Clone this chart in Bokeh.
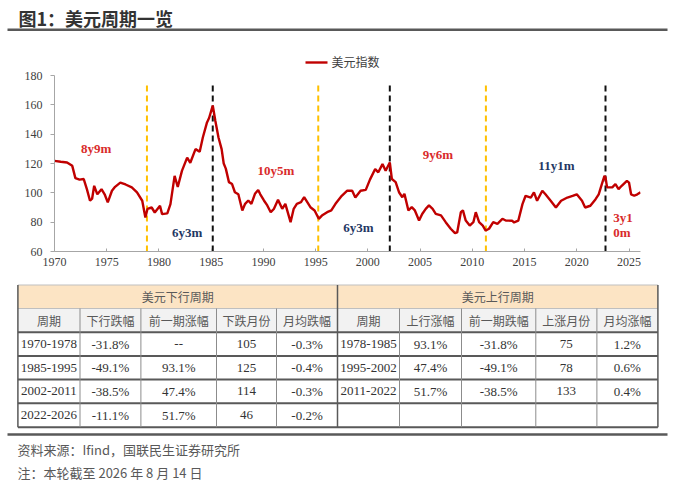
from bokeh.plotting import figure
from bokeh.models import Range1d, FixedTicker
from bokeh.core.properties import value
from bokeh.embed import file_html
from bokeh.resources import INLINE

# ---------------- data ----------------
years = [1970.0, 1970.6, 1971.2, 1971.7, 1972.0, 1972.4, 1972.8, 1973.1, 1973.4, 1973.6,
         1973.8, 1974.1, 1974.5, 1974.8, 1975.1, 1975.5, 1975.8, 1976.3, 1976.8, 1977.4,
         1977.9, 1978.4, 1978.7, 1978.9, 1979.3, 1979.6, 1980.1, 1980.3, 1980.8, 1981.1,
         1981.5, 1981.8, 1982.2, 1982.7, 1983.0, 1983.5, 1983.9, 1984.2, 1984.6, 1984.8,
         1985.15, 1985.4, 1985.7, 1986.0, 1986.2, 1986.4, 1986.7, 1987.0, 1987.27, 1987.6,
         1987.98, 1988.25, 1988.55, 1988.85, 1989.19, 1989.5, 1989.7, 1990.05, 1990.37, 1990.7,
         1991.0, 1991.4, 1991.8, 1992.1, 1992.6, 1992.9, 1993.2, 1993.6, 1993.9, 1994.2,
         1994.5, 1994.9, 1995.3, 1995.6, 1996.1, 1996.5, 1996.9, 1997.5, 1998.0, 1998.5,
         1998.8, 1999.3, 1999.8, 2000.2, 2000.7, 2001.0, 2001.4, 2001.7, 2002.1, 2002.3,
         2002.66, 2002.98, 2003.3, 2003.5, 2003.88, 2004.2, 2004.5, 2004.9, 2005.2, 2005.54,
         2005.85, 2006.2, 2006.5, 2007.0, 2007.45, 2007.93, 2008.34, 2008.55, 2008.9, 2009.1,
         2009.37, 2009.75, 2010.1, 2010.33, 2010.65, 2011.0, 2011.28, 2011.6, 2012.0, 2012.4,
         2012.88, 2013.2, 2013.8, 2014.0, 2014.4, 2014.8, 2015.1, 2015.6, 2015.9, 2016.2,
         2016.7, 2017.0, 2017.5, 2018.0, 2018.5, 2019.1, 2019.6, 2020.0, 2020.5, 2020.8,
         2021.3, 2021.8, 2022.1, 2022.4, 2022.65, 2022.75, 2022.9, 2023.4, 2023.7, 2024.0,
         2024.3, 2024.8, 2025.0, 2025.2, 2025.5, 2025.8, 2026.1]
dxy = [121.8, 121.2, 120.7, 118.4, 110.0, 109.0, 109.4, 102.5, 94.6, 96.0,
       104.8, 99.0, 102.5, 99.0, 93.5, 101.4, 104.1, 107.0, 105.7, 103.7,
       100.3, 94.6, 83.2, 89.0, 90.0, 86.6, 91.2, 85.5, 86.0, 92.3,
       111.6, 104.0, 115.0, 124.0, 120.5, 129.8, 128.0, 137.7, 148.0, 151.0,
       159.5, 149.0, 137.7, 129.8, 120.0, 116.5, 107.3, 106.0, 100.4, 99.0,
       88.0, 92.5, 94.8, 92.5, 99.3, 102.0, 99.0, 94.8, 91.4, 86.8,
       89.0, 95.2, 89.1, 92.5, 80.0, 89.1, 92.5, 93.6, 97.0, 93.6,
       90.2, 88.0, 82.3, 84.5, 86.8, 88.0, 92.5, 98.0, 101.4, 101.4,
       96.8, 101.4, 102.0, 109.0, 116.2, 114.0, 119.6, 115.0, 120.7, 109.4,
       107.3, 100.4, 97.0, 99.3, 88.0, 90.2, 88.0, 81.1, 85.6, 89.1,
       91.4, 89.1, 85.7, 84.6, 80.0, 75.5, 72.5, 73.0, 86.8, 88.0,
       81.1, 77.7, 80.0, 86.8, 80.0, 77.7, 74.3, 75.5, 80.0, 78.9,
       82.3, 81.1, 81.0, 79.8, 81.0, 92.3, 98.0, 96.8, 100.3, 94.6,
       101.4, 99.0, 94.6, 90.0, 94.6, 96.8, 97.9, 99.0, 94.6, 90.0,
       91.2, 95.7, 99.0, 106.0, 111.6, 110.5, 103.7, 103.7, 106.0, 102.5,
       104.8, 108.2, 107.0, 99.0, 98.0, 99.0, 100.3]

trough_dates = [1978.85, 1995.25, 2011.3]
peak_dates = [1985.15, 2002.1, 2022.75]
line_low = 60
line_high = 175

x_ticks = [1970, 1975, 1980, 1985, 1990, 1995, 2000, 2005, 2010, 2015, 2020, 2025]
y_ticks = [60, 80, 100, 120, 140, 160, 180]

down_labels = ["8y9m", "10y5m", "9y6m"]
down_label_x = [1974.0, 1991.2, 2006.7]
down_label_y = [130, 115, 126]
up_labels = ["6y3m", "6y3m", "11y1m"]
up_label_x = [1982.7, 1999.1, 2018.05]
up_label_y = [72.7, 76.7, 118.4]
last_labels = ["3y1", "0m"]
last_label_x = [2023.5, 2023.5]
last_label_y = [83.2, 73.0]

title_text = "图1：美元周期一览"
legend_label = "美元指数"
group_headers = ["美元下行周期", "美元上行周期"]
col_headers = ["周期", "下行跌幅", "前一期涨幅", "下跌月份", "月均跌幅",
               "周期", "上行涨幅", "前一期跌幅", "上涨月份", "月均涨幅"]
down_period = ["1970-1978", "1985-1995", "2002-2011", "2022-2026"]
down_change = ["-31.8%", "-49.1%", "-38.5%", "-11.1%"]
down_prev = ["--", "93.1%", "47.4%", "51.7%"]
down_months = ["105", "125", "114", "46"]
down_monthly = ["-0.3%", "-0.4%", "-0.3%", "-0.2%"]
up_period = ["1978-1985", "1995-2002", "2011-2022", ""]
up_change = ["93.1%", "47.4%", "51.7%", ""]
up_prev = ["-31.8%", "-49.1%", "-38.5%", ""]
up_months = ["75", "78", "133", ""]
up_monthly = ["1.2%", "0.6%", "0.4%", ""]
source_text = "资料来源：Ifind，国联民生证券研究所"
note_text = "注：本轮截至 2026 年 8 月 14 日"

# ---------------- styles ----------------
SERIF_NAME = "'Liberation Serif', 'Noto Sans CJK SC'"
SERIF = value(SERIF_NAME)
CJK = value("'Noto Sans CJK SC'")
RED = "#C00000"
LABEL_RED = "#D92B2B"
NAVY = "#1F3864"
GOLD = "#FFC000"
TEXT = "#404040"

# page geometry (pixels)
W, H = 680, 486
F_LEFT, F_RIGHT, F_TOP, F_BOTTOM = 54, 640, 75, 251

p = figure(width=W, height=H, x_range=Range1d(1970, 2026.1), y_range=Range1d(60, 180),
           output_backend="svg", toolbar_location=None,
           min_border_left=F_LEFT, min_border_right=W - F_RIGHT,
           min_border_top=F_TOP, min_border_bottom=H - F_BOTTOM)
p.xgrid.visible = False
p.ygrid.visible = False
p.outline_line_color = None
p.background_fill_color = "white"
p.border_fill_color = "white"
# page-pixel coordinate system for title, legend, table and notes
p.extra_x_ranges = {"px": Range1d(F_LEFT, F_RIGHT)}
p.extra_y_ranges = {"py": Range1d(F_BOTTOM, F_TOP)}
PX = dict(x_range_name="px", y_range_name="py", level="overlay")

# ---------------- chart ----------------
p.segment(x0=trough_dates, x1=trough_dates, y0=[line_low] * 3, y1=[line_high] * 3,
          line_color=GOLD, line_width=2, line_dash="6 4")
p.segment(x0=peak_dates, x1=peak_dates, y0=[line_low] * 3, y1=[line_high] * 3,
          line_color="#111111", line_width=2, line_dash="6 4")

p.line(years, dxy, line_color=RED, line_width=2.4)

p.text(x=down_label_x, y=down_label_y, text=down_labels, text_font=SERIF, text_font_style="bold",
       text_font_size="13px", text_color=LABEL_RED, text_align="center", text_baseline="middle")
p.text(x=up_label_x, y=up_label_y, text=up_labels, text_font=SERIF, text_font_style="bold",
       text_font_size="13px", text_color=NAVY, text_align="center", text_baseline="middle")
p.text(x=last_label_x, y=last_label_y, text=last_labels, text_font=SERIF, text_font_style="bold",
       text_font_size="13px", text_color=LABEL_RED, text_align="left", text_baseline="middle")

for ax in (p.xaxis[0], p.yaxis[0]):
    ax.axis_line_color = "#A6A6A6"
    ax.major_tick_line_color = "#A6A6A6"
    ax.minor_tick_line_color = None
    ax.major_label_text_font = SERIF_NAME
    ax.major_label_text_font_size = "12px"
    ax.major_label_text_color = TEXT
p.xaxis.ticker = FixedTicker(ticks=x_ticks)
p.yaxis.ticker = FixedTicker(ticks=y_ticks)
p.xaxis.major_tick_in = 3
p.xaxis.major_tick_out = 0
p.xaxis.major_label_standoff = 6
p.yaxis.major_tick_in = 0
p.yaxis.major_tick_out = 4
p.yaxis.major_label_standoff = 8

# ---------------- legend (above the plot area) ----------------
p.segment(x0=[305], x1=[327], y0=[62], y1=[62], line_color=RED, line_width=2.4, **PX)
p.text(x=[331], y=[62], text=[legend_label], text_font=SERIF, text_font_size="12px",
       text_color=TEXT, text_align="left", text_baseline="middle", **PX)

# ---------------- title ----------------
p.text(x=[18], y=[17.5], text=[title_text], text_font=CJK, text_font_style="bold",
       text_font_size="18px", text_color="#333333", text_align="left", text_baseline="middle", **PX)
p.segment(x0=[7], y0=[29.3], x1=[667], y1=[29.3], line_color="#595959", line_width=2.5, **PX)

# ---------------- table ----------------
col_edges = [17.4, 79.5, 140.4, 216.0, 276.0, 337.0, 399.0, 461.0, 535.3, 596.4, 657.4]
row_edges = [284.5, 308.0, 331.7, 355.5, 379.0, 402.7, 426.7]

p.quad(left=[col_edges[0]], right=[col_edges[-1]], top=[row_edges[0]], bottom=[row_edges[1]],
       fill_color="#FCE4C4", line_color=None, **PX)
p.quad(left=[col_edges[0]], right=[col_edges[-1]], top=[row_edges[1]], bottom=[row_edges[2]],
       fill_color="#F2F2F2", line_color=None, **PX)

p.segment(x0=[col_edges[0]] * 2, x1=[col_edges[-1]] * 2, y0=row_edges[:2], y1=row_edges[:2],
          line_color="#BFBFBF", line_width=1, **PX)
p.segment(x0=[col_edges[0]] * 5, x1=[col_edges[-1]] * 5, y0=row_edges[2:], y1=row_edges[2:],
          line_color="#595959", line_width=2, **PX)
inner = [c for i, c in enumerate(col_edges) if i not in (0, 5, 10)]
p.segment(x0=inner, x1=inner, y0=[row_edges[1]] * len(inner), y1=[row_edges[-1]] * len(inner),
          line_color="#8C8C8C", line_width=1, **PX)
outer = [col_edges[0], col_edges[5], col_edges[10]]
p.segment(x0=outer, x1=outer, y0=[row_edges[0]] * 3, y1=[row_edges[-1]] * 3,
          line_color="#595959", line_width=1.5, **PX)

centers_x = [(col_edges[i] + col_edges[i + 1]) / 2 for i in range(10)]
row_mid = [(row_edges[i] + row_edges[i + 1]) / 2 for i in range(6)]

p.text(x=[(col_edges[0] + col_edges[5]) / 2, (col_edges[5] + col_edges[10]) / 2],
       y=[row_mid[0]] * 2, text=group_headers, text_font=CJK, text_font_size="12px",
       text_color="#595959", text_align="center", text_baseline="middle", **PX)
p.text(x=centers_x, y=[row_mid[1]] * 10, text=col_headers, text_font=CJK, text_font_size="12px",
       text_color="#595959", text_align="center", text_baseline="middle", **PX)

table_cols = [down_period, down_change, down_prev, down_months, down_monthly,
              up_period, up_change, up_prev, up_months, up_monthly]
cx, cy, ct = [], [], []
for ci, col in enumerate(table_cols):
    for ri, v in enumerate(col):
        if v:
            cx.append(centers_x[ci])
            cy.append(row_mid[2 + ri])
            ct.append(v)
p.text(x=cx, y=cy, text=ct, text_font=SERIF, text_font_size="13px", text_color="#333333",
       text_align="center", text_baseline="middle", **PX)

# ---------------- notes ----------------
p.segment(x0=[7], x1=[667], y0=[434], y1=[434], line_color="#595959", line_width=2.5, **PX)
p.text(x=[17, 17], y=[449, 472], text=[source_text, note_text], text_font=CJK,
       text_font_size="13px", text_color="#595959", text_align="left", text_baseline="middle", **PX)

open("out.html", "w").write(file_html(p, INLINE))
